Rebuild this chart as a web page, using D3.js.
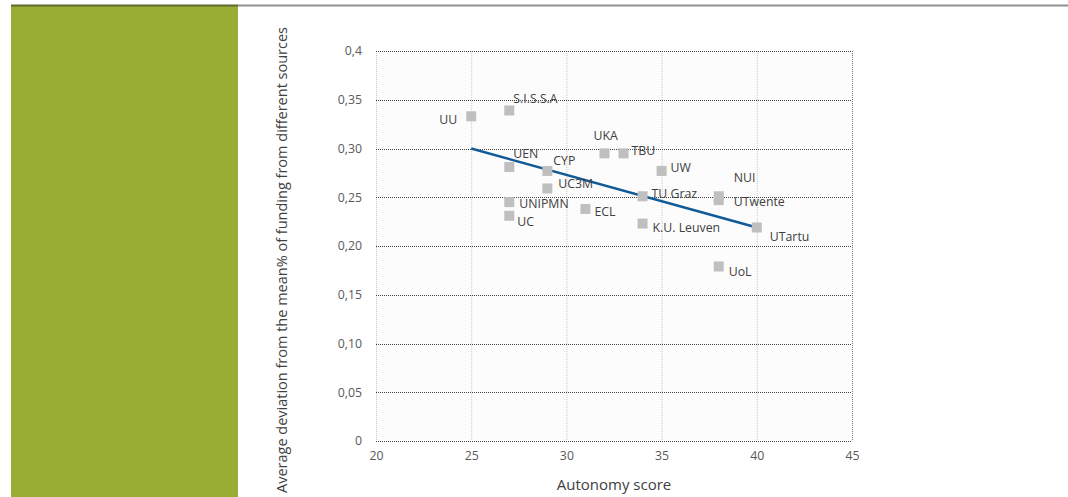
<!DOCTYPE html>
<html><head><meta charset="utf-8">
<script src="https://cdn.jsdelivr.net/npm/d3@7"></script>
<style>html,body{margin:0;padding:0;background:#fff;}svg{display:block;}</style>
</head><body>
<svg id="c" width="1068" height="497"></svg>
<script>
const universities = ["UU","S.I.S.S.A","UEN","CYP","UC3M","UNIPMN","UC","ECL","UKA","TBU","UW","TU Graz","K.U. Leuven","NUI","UTwente","UTartu","UoL"];
const autonomyScores = [25,27,27,29,29,27,27,31,32,33,35,34,34,38,38,40,38];
const fundingDeviation = [0.333,0.339,0.281,0.277,0.259,0.245,0.231,0.238,0.295,0.295,0.277,0.251,0.223,0.251,0.247,0.219,0.179];
const trendX = [25,40];
const trendY = [0.300,0.219];
const xTicks = [20,25,30,35,40,45];
const yTicks = [0,0.05,0.10,0.15,0.20,0.25,0.30,0.35,0.40];
const yTickLabels = ["0","0,05","0,10","0,15","0,20","0,25","0,30","0,35","0,4"];
const xTitle = "Autonomy score";
const yTitle = "Average deviation from the mean% of funding from different sources";

// label placement offsets (style, not data)
const labelOffsets = {
  "UU":[-14,8,"end"],"S.I.S.S.A":[4,-7,"start"],"UEN":[4,-9,"start"],"CYP":[6,-6,"start"],
  "UC3M":[11,0,"start"],"UNIPMN":[10,6,"start"],"UC":[8,10,"start"],"ECL":[9,7,"start"],
  "UKA":[-11,-13,"start"],"TBU":[8,2,"start"],"UW":[9,1,"start"],"TU Graz":[9,2,"start"],
  "K.U. Leuven":[10,8,"start"],"NUI":[15,-14,"start"],"UTwente":[15,6,"start"],
  "UTartu":[13,14,"start"],"UoL":[10,10,"start"]
};

const svg = d3.select("#c");
const font = "'Open Sans', 'Noto Sans', sans-serif";

// decorative frame
svg.append("rect").attr("x",11).attr("y",6).attr("width",227).attr("height",491).attr("fill","#99ac33");
svg.append("rect").attr("x",11).attr("y",4.5).attr("width",227).attr("height",2).attr("fill","#5f6b2c");
svg.append("rect").attr("x",238).attr("y",4.5).attr("width",830).attr("height",2).attr("fill","#8f8f8f");

const x = d3.scaleLinear().domain([20,45]).range([376,852]);
const y = d3.scaleLinear().domain([0,0.4]).range([441,51]);

const g = svg.append("g");
g.append("rect").attr("x",x(20)).attr("y",y(0.4)).attr("width",x(45)-x(20)).attr("height",y(0)-y(0.4)).attr("fill","#fcfcfc");

// vertical gridlines
g.selectAll(".vg").data(xTicks).enter().append("line")
  .attr("x1",d=>x(d)+0.5).attr("x2",d=>x(d)+0.5).attr("y1",y(0.4)).attr("y2",y(0))
  .attr("stroke",d=>d===45?"#777":"#c8c8c8").attr("stroke-width",1).attr("stroke-dasharray","1,1");
// horizontal gridlines
g.selectAll(".hg").data(yTicks).enter().append("line")
  .attr("x1",x(20)).attr("x2",x(45)).attr("y1",d=>Math.round(y(d))+0.5).attr("y2",d=>Math.round(y(d))+0.5)
  .attr("stroke","#444").attr("stroke-width",1).attr("stroke-dasharray","1,1");

// axes
const yAxis = d3.axisLeft(y).tickValues(yTicks).tickFormat((d,i)=>yTickLabels[i]).tickSize(0).tickPadding(14);
const ya = svg.append("g").attr("transform",`translate(${x(20)},0)`).call(yAxis);
ya.select(".domain").remove();
ya.selectAll("text").attr("font-family",font).attr("font-size",12.3).attr("fill","#595959");

const xAxis = d3.axisBottom(x).tickValues(xTicks).tickSize(0).tickPadding(10);
const xa = svg.append("g").attr("transform",`translate(0,${y(0)})`).call(xAxis);
xa.select(".domain").remove();
xa.selectAll("text").attr("font-family",font).attr("font-size",12.3).attr("fill","#595959");

// trend line
g.append("line").attr("x1",x(trendX[0])).attr("y1",y(trendY[0])).attr("x2",x(trendX[1])).attr("y2",y(trendY[1]))
  .attr("stroke","#115a98").attr("stroke-width",2.5);

// points
const pts = universities.map((n,i)=>({n, a:autonomyScores[i], v:fundingDeviation[i]}));
g.selectAll(".pt").data(pts).enter().append("rect")
  .attr("x",d=>x(d.a)-5).attr("y",d=>y(d.v)-5).attr("width",10).attr("height",10).attr("fill","#bfbfbf");

g.selectAll(".lbl").data(pts).enter().append("text")
  .attr("x",d=>x(d.a)+labelOffsets[d.n][0]).attr("y",d=>y(d.v)+labelOffsets[d.n][1])
  .attr("text-anchor",d=>labelOffsets[d.n][2])
  .attr("font-family",font).attr("font-size",12.3).attr("fill","#404040").text(d=>d.n);

// titles
svg.append("text").attr("x",x(32.5)).attr("y",490).attr("text-anchor","middle")
  .attr("font-family",font).attr("font-size",15).attr("fill","#404040").text(xTitle);
svg.append("text").attr("transform","translate(287,260) rotate(-90)").attr("text-anchor","middle")
  .attr("font-family",font).attr("font-size",14.5).attr("fill","#404040").text(yTitle);
</script>
</body></html>
